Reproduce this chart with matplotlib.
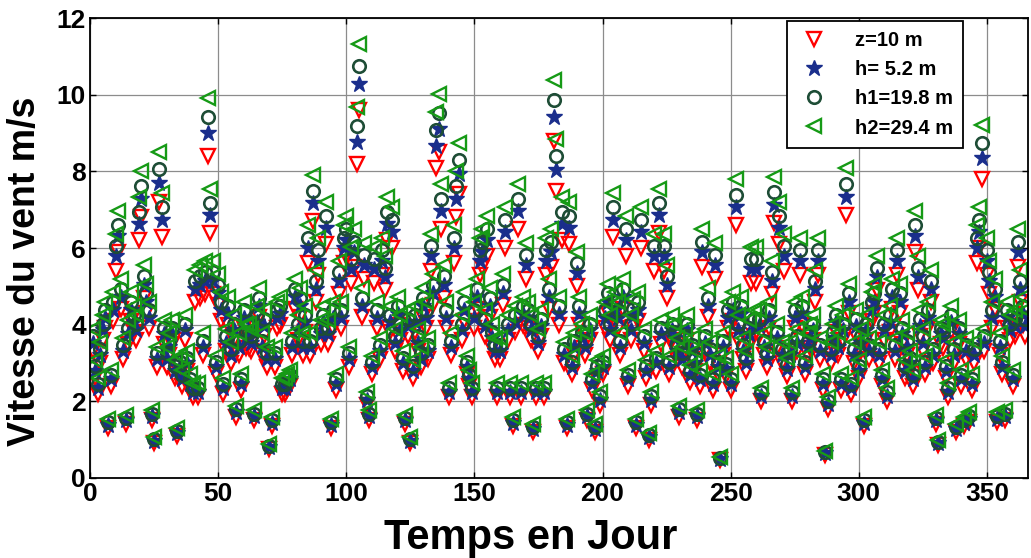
import numpy as np
import matplotlib
matplotlib.use('Agg')
import matplotlib.pyplot as plt

# Jours de l'annee
jours = np.arange(1, 366)

# Vitesse du vent a z=10 m (m/s)
v_z10 = [3.3, 2.6, 2.2, 3.0, 3.6, 3.9, 1.3, 2.4, 4.1, 5.4,
         5.9, 4.4, 3.1, 1.4, 3.5, 4.1, 3.8, 3.6, 6.2, 6.8,
         4.7, 4.3, 3.9, 1.5, 0.9, 2.9, 7.2, 6.3, 3.5, 2.9,
         3.2, 3.5, 2.6, 1.1, 2.7, 2.4, 3.6, 2.8, 2.3, 2.1,
         4.6, 2.1, 4.7, 3.2, 4.8, 8.4, 6.4, 4.8, 2.7, 4.5,
         4.1, 2.2, 3.3, 4.0, 3.0, 3.6, 1.6, 3.2, 2.3, 3.9,
         3.4, 3.4, 3.3, 1.5, 3.8, 4.2, 3.2, 3.7, 2.9, 0.75,
         1.35, 2.9, 3.9, 4.0, 2.2, 2.2, 2.3, 2.4, 3.2, 4.4,
         3.6, 4.2, 3.2, 3.8, 5.6, 3.2, 6.7, 4.6, 5.3, 3.5,
         3.8, 6.1, 3.5, 1.3, 3.9, 2.3, 4.8, 3.9, 5.6, 5.8,
         2.9, 5.1, 5.5, 8.2, 9.6, 4.2, 5.2, 1.9, 1.5, 2.7,
         5.1, 3.9, 3.1, 5.3, 4.9, 6.2, 3.8, 6.0, 3.3, 4.0,
         3.6, 2.8, 1.4, 3.7, 0.9, 2.6, 3.8, 3.3, 2.9, 4.2,
         3.9, 3.1, 5.4, 4.5, 8.1, 8.5, 6.5, 4.7, 3.9, 2.1,
         3.2, 5.6, 6.8, 7.4, 3.6, 4.1, 2.7, 2.4, 2.1, 3.9,
         4.4, 5.3, 5.5, 3.7, 5.8, 4.2, 3.4, 3.1, 2.1, 3.1,
         4.5, 6.0, 3.6, 2.1, 1.35, 3.8, 6.5, 2.1, 4.0, 5.2,
         3.9, 3.6, 1.2, 2.1, 3.3, 3.7, 2.1, 5.3, 4.4, 5.5,
         8.8, 7.5, 4.0, 6.2, 3.0, 1.3, 6.1, 2.7, 3.2, 5.0,
         4.0, 3.4, 3.2, 1.5, 3.6, 2.3, 1.2, 2.6, 1.9, 2.7,
         3.9, 4.3, 3.6, 6.3, 4.1, 3.9, 3.2, 4.4, 5.8, 2.4,
         3.6, 3.95, 1.3, 4.1, 6.0, 3.3, 2.6, 1.0, 1.9, 5.4,
         2.8, 6.4, 3.5, 5.4, 4.7, 2.7, 3.6, 3.4, 3.1, 1.6,
         2.9, 3.3, 3.6, 2.5, 3.1, 2.8, 1.5, 2.4, 5.5, 3.3,
         4.2, 3.0, 2.3, 5.2, 2.7, 0.47, 3.2, 2.65, 3.9, 2.3,
         4.1, 6.6, 3.6, 4.0, 3.1, 2.8, 3.5, 5.1, 3.7, 5.1,
         3.7, 2.0, 3.2, 2.9, 3.9, 4.8, 6.65, 3.4, 6.1, 3.0,
         5.4, 2.65, 3.0, 2.0, 3.9, 3.3, 5.3, 4.0, 2.7, 3.2,
         3.4, 3.6, 4.6, 5.3, 3.1, 2.3, 0.6, 1.8, 3.0, 3.4,
         3.8, 3.2, 2.3, 3.6, 6.85, 4.3, 2.2, 3.0, 3.7, 2.6,
         3.3, 1.35, 3.6, 3.1, 4.1, 4.3, 4.9, 3.0, 2.4, 3.6,
         2.0, 3.8, 4.4, 3.1, 5.3, 4.3, 3.5, 2.6, 3.2, 2.8,
         2.4, 5.9, 4.9, 3.7, 3.3, 2.7, 3.9, 4.6, 3.0, 1.4,
         0.85, 3.5, 3.4, 2.6, 2.1, 3.8, 3.0, 1.2, 3.5, 2.4,
         1.35, 3.1, 1.45, 2.3, 3.0, 5.6, 6.0, 7.8, 3.3, 5.3,
         4.8, 3.9, 4.4, 1.45, 3.2, 2.7, 1.5, 3.9, 3.6, 2.4,
         3.7, 5.5, 4.6, 4.0, 3.7]

# h = 5.2 m
v_h = [3.53, 2.78, 2.35, 3.21, 3.85, 4.17, 1.39, 2.57, 4.39, 5.78,
       6.31, 4.71, 3.32, 1.50, 3.75, 4.39, 4.07, 3.85, 6.63, 7.28,
       5.03, 4.60, 4.17, 1.61, 0.96, 3.10, 7.70, 6.74, 3.75, 3.10,
       3.42, 3.75, 2.78, 1.18, 2.89, 2.57, 3.85, 3.00, 2.46, 2.25,
       4.92, 2.25, 5.03, 3.42, 5.14, 8.99, 6.85, 5.14, 2.89, 4.82,
       4.39, 2.35, 3.53, 4.28, 3.21, 3.85, 1.71, 3.42, 2.46, 4.17,
       3.64, 3.64, 3.53, 1.61, 4.07, 4.49, 3.42, 3.96, 3.10, 0.80,
       1.44, 3.10, 4.17, 4.28, 2.35, 2.35, 2.46, 2.57, 3.42, 4.71,
       3.85, 4.49, 3.42, 4.07, 5.99, 3.42, 7.17, 4.92, 5.67, 3.75,
       4.07, 6.53, 3.75, 1.39, 4.17, 2.46, 5.14, 4.17, 5.99, 6.21,
       3.10, 5.46, 5.89, 8.77, 10.27, 4.49, 5.56, 2.03, 1.61, 2.89,
       5.46, 4.17, 3.32, 5.67, 5.24, 6.63, 4.07, 6.42, 3.53, 4.28,
       3.85, 3.00, 1.50, 3.96, 0.96, 2.78, 4.07, 3.53, 3.10, 4.49,
       4.17, 3.32, 5.78, 4.82, 8.67, 9.10, 6.96, 5.03, 4.17, 2.25,
       3.42, 5.99, 7.28, 7.92, 3.85, 4.39, 2.89, 2.57, 2.25, 4.17,
       4.71, 5.67, 5.89, 3.96, 6.21, 4.49, 3.64, 3.32, 2.25, 3.32,
       4.82, 6.42, 3.85, 2.25, 1.44, 4.07, 6.96, 2.25, 4.28, 5.56,
       4.17, 3.85, 1.28, 2.25, 3.53, 3.96, 2.25, 5.67, 4.71, 5.89,
       9.42, 8.03, 4.28, 6.63, 3.21, 1.39, 6.53, 2.89, 3.42, 5.35,
       4.28, 3.64, 3.42, 1.61, 3.85, 2.46, 1.28, 2.78, 2.03, 2.89,
       4.17, 4.60, 3.85, 6.74, 4.39, 4.17, 3.42, 4.71, 6.21, 2.57,
       3.85, 4.23, 1.39, 4.39, 6.42, 3.53, 2.78, 1.07, 2.03, 5.78,
       3.00, 6.85, 3.75, 5.78, 5.03, 2.89, 3.85, 3.64, 3.32, 1.71,
       3.10, 3.53, 3.85, 2.68, 3.32, 3.00, 1.61, 2.57, 5.89, 3.53,
       4.49, 3.21, 2.46, 5.56, 2.89, 0.50, 3.42, 2.84, 4.17, 2.46,
       4.39, 7.06, 3.85, 4.28, 3.32, 3.00, 3.75, 5.46, 3.96, 5.46,
       3.96, 2.14, 3.42, 3.10, 4.17, 5.14, 7.12, 3.64, 6.53, 3.21,
       5.78, 2.84, 3.21, 2.14, 4.17, 3.53, 5.67, 4.28, 2.89, 3.42,
       3.64, 3.85, 4.92, 5.67, 3.32, 2.46, 0.64, 1.93, 3.21, 3.64,
       4.07, 3.42, 2.46, 3.85, 7.33, 4.60, 2.35, 3.21, 3.96, 2.78,
       3.53, 1.44, 3.85, 3.32, 4.39, 4.60, 5.24, 3.21, 2.57, 3.85,
       2.14, 4.07, 4.71, 3.32, 5.67, 4.60, 3.75, 2.78, 3.42, 3.00,
       2.57, 6.31, 5.24, 3.96, 3.53, 2.89, 4.17, 4.92, 3.21, 1.50,
       0.91, 3.75, 3.64, 2.78, 2.25, 4.07, 3.21, 1.28, 3.75, 2.57,
       1.44, 3.32, 1.55, 2.46, 3.21, 5.99, 6.42, 8.35, 3.53, 5.67,
       5.14, 4.17, 4.71, 1.55, 3.42, 2.89, 1.61, 4.17, 3.85, 2.57,
       3.96, 5.89, 4.92, 4.28, 3.96]

# h1 = 19.8 m
v_h1 = [3.70, 2.91, 2.46, 3.36, 4.03, 4.37, 1.46, 2.69, 4.59, 6.05,
        6.61, 4.93, 3.47, 1.57, 3.92, 4.59, 4.26, 4.03, 6.94, 7.62,
        5.26, 4.82, 4.37, 1.68, 1.01, 3.25, 8.06, 7.06, 3.92, 3.25,
        3.58, 3.92, 2.91, 1.23, 3.02, 2.69, 4.03, 3.14, 2.58, 2.35,
        5.15, 2.35, 5.26, 3.58, 5.38, 9.41, 7.17, 5.38, 3.02, 5.04,
        4.59, 2.46, 3.70, 4.48, 3.36, 4.03, 1.79, 3.58, 2.58, 4.37,
        3.81, 3.81, 3.70, 1.68, 4.26, 4.70, 3.58, 4.14, 3.25, 0.84,
        1.51, 3.25, 4.37, 4.48, 2.46, 2.46, 2.58, 2.69, 3.58, 4.93,
        4.03, 4.70, 3.58, 4.26, 6.27, 3.58, 7.50, 5.15, 5.94, 3.92,
        4.26, 6.83, 3.92, 1.46, 4.37, 2.58, 5.38, 4.37, 6.27, 6.50,
        3.25, 5.71, 6.16, 9.18, 10.75, 4.70, 5.82, 2.13, 1.68, 3.02,
        5.71, 4.37, 3.47, 5.94, 5.49, 6.94, 4.26, 6.72, 3.70, 4.48,
        4.03, 3.14, 1.57, 4.14, 1.01, 2.91, 4.26, 3.70, 3.25, 4.70,
        4.37, 3.47, 6.05, 5.04, 9.07, 9.52, 7.28, 5.26, 4.37, 2.35,
        3.58, 6.27, 7.62, 8.29, 4.03, 4.59, 3.02, 2.69, 2.35, 4.37,
        4.93, 5.94, 6.16, 4.14, 6.50, 4.70, 3.81, 3.47, 2.35, 3.47,
        5.04, 6.72, 4.03, 2.35, 1.51, 4.26, 7.28, 2.35, 4.48, 5.82,
        4.37, 4.03, 1.34, 2.35, 3.70, 4.14, 2.35, 5.94, 4.93, 6.16,
        9.86, 8.40, 4.48, 6.94, 3.36, 1.46, 6.83, 3.02, 3.58, 5.60,
        4.48, 3.81, 3.58, 1.68, 4.03, 2.58, 1.34, 2.91, 2.13, 3.02,
        4.37, 4.82, 4.03, 7.06, 4.59, 4.37, 3.58, 4.93, 6.50, 2.69,
        4.03, 4.42, 1.46, 4.59, 6.72, 3.70, 2.91, 1.12, 2.13, 6.05,
        3.14, 7.17, 3.92, 6.05, 5.26, 3.02, 4.03, 3.81, 3.47, 1.79,
        3.25, 3.70, 4.03, 2.80, 3.47, 3.14, 1.68, 2.69, 6.16, 3.70,
        4.70, 3.36, 2.58, 5.82, 3.02, 0.53, 3.58, 2.97, 4.37, 2.58,
        4.59, 7.39, 4.03, 4.48, 3.47, 3.14, 3.92, 5.71, 4.14, 5.71,
        4.14, 2.24, 3.58, 3.25, 4.37, 5.38, 7.45, 3.81, 6.83, 3.36,
        6.05, 2.97, 3.36, 2.24, 4.37, 3.70, 5.94, 4.48, 3.02, 3.58,
        3.81, 4.03, 5.15, 5.94, 3.47, 2.58, 0.67, 2.02, 3.36, 3.81,
        4.26, 3.58, 2.58, 4.03, 7.67, 4.82, 2.46, 3.36, 4.14, 2.91,
        3.70, 1.51, 4.03, 3.47, 4.59, 4.82, 5.49, 3.36, 2.69, 4.03,
        2.24, 4.26, 4.93, 3.47, 5.94, 4.82, 3.92, 2.91, 3.58, 3.14,
        2.69, 6.61, 5.49, 4.14, 3.70, 3.02, 4.37, 5.15, 3.36, 1.57,
        0.95, 3.92, 3.81, 2.91, 2.35, 4.26, 3.36, 1.34, 3.92, 2.69,
        1.51, 3.47, 1.62, 2.58, 3.36, 6.27, 6.72, 8.74, 3.70, 5.94,
        5.38, 4.37, 4.93, 1.62, 3.58, 3.02, 1.68, 4.37, 4.03, 2.69,
        4.14, 6.16, 5.15, 4.48, 4.14]

# h2 = 29.4 m
v_h2 = [3.89, 3.07, 2.60, 3.54, 4.25, 4.60, 1.53, 2.83, 4.84, 6.37,
        6.96, 5.19, 3.66, 1.65, 4.13, 4.84, 4.48, 4.25, 7.32, 8.02,
        5.55, 5.07, 4.60, 1.77, 1.06, 3.42, 8.50, 7.43, 4.13, 3.42,
        3.78, 4.13, 3.07, 1.30, 3.19, 2.83, 4.25, 3.30, 2.71, 2.48,
        5.43, 2.48, 5.55, 3.78, 5.66, 9.91, 7.55, 5.66, 3.19, 5.31,
        4.84, 2.60, 3.89, 4.72, 3.54, 4.25, 1.89, 3.78, 2.71, 4.60,
        4.01, 4.01, 3.89, 1.77, 4.48, 4.96, 3.78, 4.37, 3.42, 0.89,
        1.59, 3.42, 4.60, 4.72, 2.60, 2.60, 2.71, 2.83, 3.78, 5.19,
        4.25, 4.96, 3.78, 4.48, 6.61, 3.78, 7.91, 5.43, 6.25, 4.13,
        4.48, 7.20, 4.13, 1.53, 4.60, 2.71, 5.66, 4.60, 6.61, 6.84,
        3.42, 6.02, 6.49, 9.68, 11.33, 4.96, 6.14, 2.24, 1.77, 3.19,
        6.02, 4.60, 3.66, 6.25, 5.78, 7.32, 4.48, 7.08, 3.89, 4.72,
        4.25, 3.30, 1.65, 4.37, 1.06, 3.07, 4.48, 3.89, 3.42, 4.96,
        4.60, 3.66, 6.37, 5.31, 9.56, 10.03, 7.67, 5.55, 4.60, 2.48,
        3.78, 6.61, 8.02, 8.73, 4.25, 4.84, 3.19, 2.83, 2.48, 4.60,
        5.19, 6.25, 6.49, 4.37, 6.84, 4.96, 4.01, 3.66, 2.48, 3.66,
        5.31, 7.08, 4.25, 2.48, 1.59, 4.48, 7.67, 2.48, 4.72, 6.14,
        4.60, 4.25, 1.42, 2.48, 3.89, 4.37, 2.48, 6.25, 5.19, 6.49,
        10.38, 8.85, 4.72, 7.32, 3.54, 1.53, 7.20, 3.19, 3.78, 5.90,
        4.72, 4.01, 3.78, 1.77, 4.25, 2.71, 1.42, 3.07, 2.24, 3.19,
        4.60, 5.07, 4.25, 7.43, 4.84, 4.60, 3.78, 5.19, 6.84, 2.83,
        4.25, 4.66, 1.53, 4.84, 7.08, 3.89, 3.07, 1.18, 2.24, 6.37,
        3.30, 7.55, 4.13, 6.37, 5.55, 3.19, 4.25, 4.01, 3.66, 1.89,
        3.42, 3.89, 4.25, 2.95, 3.66, 3.30, 1.77, 2.83, 6.49, 3.89,
        4.96, 3.54, 2.71, 6.14, 3.19, 0.55, 3.78, 3.13, 4.60, 2.71,
        4.84, 7.79, 4.25, 4.72, 3.66, 3.30, 4.13, 6.02, 4.37, 6.02,
        4.37, 2.36, 3.78, 3.42, 4.60, 5.66, 7.85, 4.01, 7.20, 3.54,
        6.37, 3.13, 3.54, 2.36, 4.60, 3.89, 6.25, 4.72, 3.19, 3.78,
        4.01, 4.25, 5.43, 6.25, 3.66, 2.71, 0.71, 2.12, 3.54, 4.01,
        4.48, 3.78, 2.71, 4.25, 8.08, 5.07, 2.60, 3.54, 4.37, 3.07,
        3.89, 1.59, 4.25, 3.66, 4.84, 5.07, 5.78, 3.54, 2.83, 4.25,
        2.36, 4.48, 5.19, 3.66, 6.25, 5.07, 4.13, 3.07, 3.78, 3.30,
        2.83, 6.96, 5.78, 4.37, 3.89, 3.19, 4.60, 5.43, 3.54, 1.65,
        1.00, 4.13, 4.01, 3.07, 2.48, 4.48, 3.54, 1.42, 4.13, 2.83,
        1.59, 3.66, 1.71, 2.71, 3.54, 6.61, 7.08, 9.20, 3.89, 6.25,
        5.66, 4.60, 5.19, 1.71, 3.78, 3.19, 1.77, 4.60, 4.25, 2.83,
        4.37, 6.49, 5.43, 4.72, 4.37]

plt.rcParams['font.family'] = ['Liberation Sans', 'DejaVu Sans']
plt.rcParams['font.weight'] = 'bold'

fig, ax = plt.subplots(figsize=(10.31, 5.58), dpi=100)
fig.subplots_adjust(left=0.0873, right=0.997, bottom=0.1434, top=0.9677)

ms = 10
ax.plot(jours, v_z10, linestyle='none', marker='v', markersize=ms,
        markerfacecolor='none', markeredgecolor='#ff0000', markeredgewidth=1.7,
        label='z=10 m')
ax.plot(jours, v_h, linestyle='none', marker='*', markersize=ms + 2,
        markerfacecolor='#1a2e8c', markeredgecolor='#1a2e8c', markeredgewidth=1.0,
        label='h= 5.2 m')
ax.plot(jours, v_h1, linestyle='none', marker='o', markersize=ms - 1,
        markerfacecolor='none', markeredgecolor='#1e4d36', markeredgewidth=1.9,
        label='h1=19.8 m')
ax.plot(jours, v_h2, linestyle='none', marker='<', markersize=ms,
        markerfacecolor='none', markeredgecolor='#169a16', markeredgewidth=1.7,
        label='h2=29.4 m')

ax.set_xlim(0, 366)
ax.set_ylim(0, 12)
ax.set_xticks(range(0, 351, 50))
ax.set_yticks(range(0, 13, 2))
ax.grid(True, color='#8c8c8c', linewidth=0.9)
ax.set_axisbelow(True)
ax.tick_params(direction='in', top=True, right=True, labelsize=19, length=4,
               width=1, pad=3)
for s in ax.spines.values():
    s.set_linewidth(1.3)
    s.set_color('black')

ax.set_xlabel('Temps en Jour', fontsize=30, fontweight='bold')
ax.set_ylabel('Vitesse du vent m/s', fontsize=27, fontweight='bold')
ax.xaxis.set_label_coords(0.47, -0.088)
ax.yaxis.set_label_coords(-0.05, 0.45)

leg = ax.legend(loc='upper right', bbox_to_anchor=(0.931, 0.993), fontsize=14.5,
                numpoints=1, fancybox=False, framealpha=1, edgecolor='black',
                handletextpad=1.2, handlelength=1.7, borderpad=0.5,
                labelspacing=0.5, borderaxespad=0)
leg.get_frame().set_linewidth(1.3)

fig.savefig('out.png', dpi=100)
